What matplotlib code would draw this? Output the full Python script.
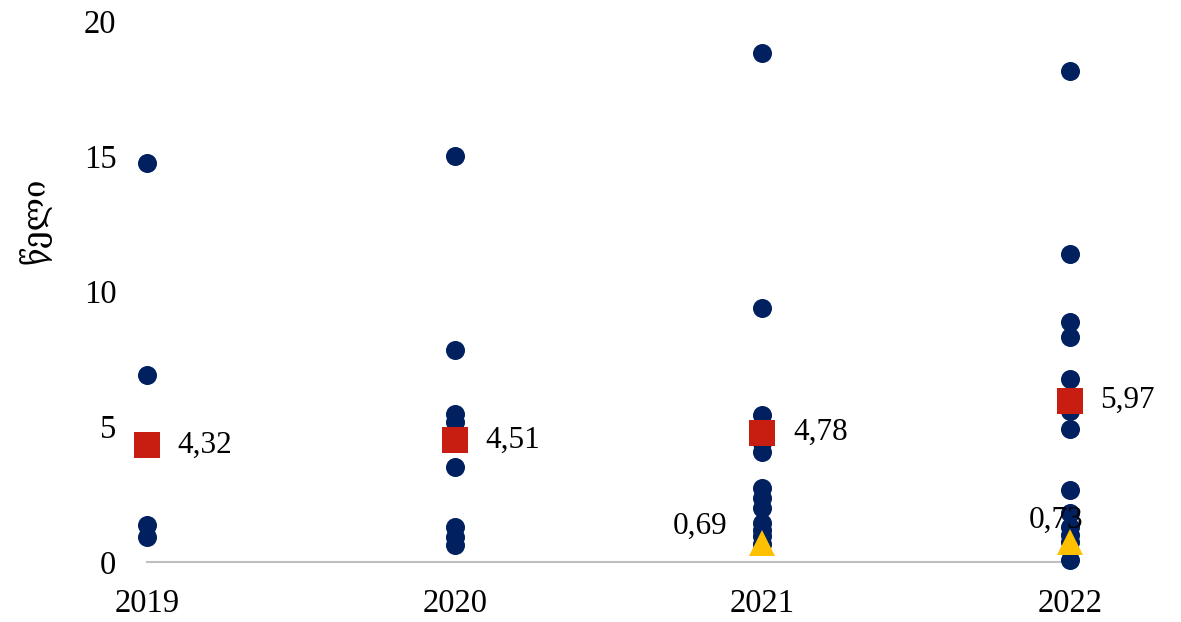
import matplotlib
matplotlib.use("Agg")
import matplotlib.pyplot as plt

plt.rcParams['font.family'] = ['Liberation Serif', 'DejaVu Serif', 'DejaVu Sans']

years = [2019, 2020, 2021, 2022]
points_2019 = [14.75, 6.91, 1.37, 0.92]
points_2020 = [15.0, 7.84, 5.47, 5.17, 3.51, 1.29, 0.93, 0.62]
points_2021 = [18.8, 9.39, 5.43, 5.0, 4.4, 4.05, 2.72, 2.35, 2.0, 1.45, 1.2, 0.95, 0.65]
points_2022 = [18.15, 11.39, 8.87, 8.32, 6.77, 5.6, 4.9, 2.68, 1.8, 1.3, 1.0, 0.74, 0.07]
all_points = [points_2019, points_2020, points_2021, points_2022]

mean_values = [4.32, 4.51, 4.78, 5.97]
mean_labels = ["4,32", "4,51", "4,78", "5,97"]

tri_years = [2021, 2022]
tri_values = [0.69, 0.73]
tri_labels = ["0,69", "0,73"]

y_ticks = [0, 5, 10, 15, 20]
y_label = "წელი"

fig = plt.figure(figsize=(11.81, 6.22), dpi=100)
ax = fig.add_axes([147/1181, (622-562)/622, (1070-147)/1181, (562-21)/622])

for yr, pts in zip(years, all_points):
    ax.plot([yr]*len(pts), pts, 'o', color='#002060', markersize=13.7,
            markeredgewidth=0, clip_on=False, zorder=3)

ax.plot(years, mean_values, 's', color='#C81E12', markersize=19.4,
        markeredgewidth=0, clip_on=False, zorder=4)
for yr, v, lab in zip(years, mean_values, mean_labels):
    ax.annotate(lab, (yr, v), xytext=(22, 0), textcoords='offset points',
                ha='left', va='center', fontsize=22.5, color='black', zorder=6)

ax.plot(tri_years, tri_values, '^', color='#FFC000', markersize=19.4,
        markeredgewidth=0, clip_on=False, zorder=5)
tri_offsets = [(-25, 12), (-10, 16)]
tri_ha = ['right', 'center']
for yr, v, lab, off, ha in zip(tri_years, tri_values, tri_labels, tri_offsets, tri_ha):
    ax.annotate(lab, (yr, v), xytext=off, textcoords='offset points',
                ha=ha, va='center', fontsize=22.5, color='black', zorder=6)

ax.set_xlim(2019, 2022)
ax.set_ylim(0, 20)
ax.set_xticks(years)
ax.set_xticklabels([str(y) for y in years])
ax.set_yticks(y_ticks)
ax.tick_params(axis='both', length=0, labelsize=23.5)
ax.tick_params(axis='y', pad=22)
ax.tick_params(axis='x', pad=19)

for s in ['top', 'right', 'left']:
    ax.spines[s].set_visible(False)
ax.spines['bottom'].set_color('#BFBFBF')
ax.spines['bottom'].set_linewidth(1.5)
ax.spines['bottom'].set_zorder(1)

fig.text(35/1181, 1 - 221/622, y_label, rotation=90, ha='center', va='center',
         fontsize=22.5)

fig.savefig("out.png", dpi=100)
